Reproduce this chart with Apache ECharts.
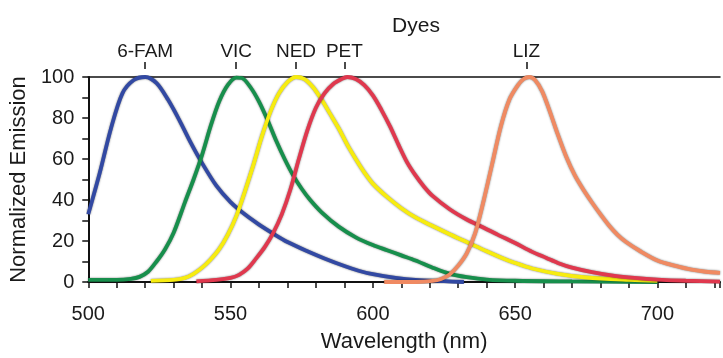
<!DOCTYPE html>
<html>
<head>
<meta charset="utf-8">
<script src="https://cdn.jsdelivr.net/npm/echarts@6/dist/echarts.min.js"></script>
<style>
  html, body { margin: 0; padding: 0; background: #fff; }
  #chart { width: 723px; height: 358px; }
</style>
</head>
<body>
<div id="chart"></div>
<script>
// emission spectra, [wavelength nm, normalized emission]
const fam = [[500, 33], [504, 53], [508, 75], [512, 92], [516, 98.5], [520, 100], [524, 97], [528, 89],
  [532, 79], [536, 68], [540, 58], [545, 47], [550, 39], [555, 33], [560, 28], [565, 23.6], [570, 19.5],
  [577, 15], [583, 11.5], [590, 7.8], [595, 5.5], [600, 3.8], [608, 2], [615, 1], [625, 0.4], [632, 0]]

const vic = [[500, 1], [510, 1], [515, 1.5], [518, 2.5], [521, 5], [524, 10], [527, 16], [530, 24], [534, 39],
  [537, 50], [540, 62], [543, 76], [546, 88], [549, 96], [552, 99.7], [554, 99.5], [557, 95], [560, 88],
  [563, 79], [566, 69], [569, 60], [572, 52], [575, 45.5], [578, 40], [582, 34], [588, 27], [594, 21.8],
  [600, 18], [605, 15.5], [610, 13], [615, 10.5], [621, 7], [627, 4], [633, 2.4], [640, 1.2], [650, 0.6],
  [670, 0.3], [700, 0]]

const ned = [[522, 0.5], [530, 1], [534, 2], [537, 4], [540, 7], [543, 11], [546, 16], [549, 23], [552, 32],
  [555, 44], [558, 57], [561, 71], [564, 83], [567, 92], [570, 97.5], [573, 100], [576, 99], [579, 95],
  [582, 89], [585, 82], [588, 75], [591, 67], [594, 60], [597, 53.5], [600, 48], [605, 41.5], [610, 36],
  [615, 31.5], [621, 27.3], [627, 23.3], [633, 19.5], [640, 15], [645, 12], [650, 9.3], [656, 6.6],
  [665, 4], [675, 2.2], [690, 1], [700, 0.5]]

const pet = [[538, 0.3], [545, 1], [550, 2], [553, 3.5], [556, 6.5], [559, 11.5], [562, 17], [565, 24],
  [568, 33], [571, 45], [574, 60], [577, 74], [580, 85], [583, 92], [586, 96.5], [589, 99], [591, 100],
  [594, 99], [597, 96], [600, 91], [603, 84], [606, 76], [609, 67], [612, 58.5], [615, 52], [618, 46.5],
  [621, 42], [627, 35.5], [633, 30.5], [639, 26.5], [644, 23], [650, 19], [656, 14.7], [661, 11.7],
  [665, 9.3], [670, 7], [677, 4.8], [685, 3], [692, 2], [700, 1.2], [710, 0.6], [722, 0.2]]

const liz = [[604, 0], [615, 0], [621, 0.5], [624, 1.5], [627, 3.7], [630, 8], [633, 14], [636, 24],
  [639, 40], [642, 58], [645, 76], [648, 89], [651, 96], [653, 99], [655, 100], [657, 98.5], [659.5, 93],
  [662, 84], [665, 72], [668, 61], [671, 52], [674, 45], [677, 38.8], [680, 33], [683, 27.6], [686, 23],
  [689, 19.5], [694, 15], [700, 10.5], [706, 8], [712, 6], [717, 5], [722, 4.5]]

const dyeNames = ['6-FAM', 'VIC', 'NED', 'PET', 'LIZ']
const dyePeaks = [520, 552, 573, 590, 654]
const dyeColors = ['#3249a3', '#178f4c', '#f7ec10', '#e0384e', '#f08a62']
const dyeData = [fam, vic, ned, pet, liz]

const chart = echarts.init(document.getElementById('chart'))
const font = 'Liberation Sans, Arial, sans-serif'
const ink = '#1a1a1a'

const option = {
  animation: false,
  title: {
    text: 'Dyes',
    left: 411,
    top: 11,
    textAlign: 'center',
    textStyle: { fontFamily: font, fontSize: 21, fontWeight: 'normal', color: ink },
  },
  grid: { left: 87, right: 0, top: 77, bottom: 72 },
  xAxis: [
    {
      type: 'value',
      min: 500,
      max: 722,
      interval: 10,
      splitLine: { show: false },
      axisLine: { lineStyle: { color: '#111', width: 2 } },
      axisTick: { length: 6, lineStyle: { color: '#111', width: 1.5 } },
      axisLabel: {
        margin: 22,
        fontFamily: font,
        fontSize: 20,
        color: ink,
        formatter: v => (v % 50 === 0 ? String(v) : ''),
      },
      name: 'Wavelength (nm)',
      nameLocation: 'middle',
      nameGap: 49,
      nameTextStyle: { fontFamily: font, fontSize: 22, color: ink },
    },
    {
      type: 'value',
      position: 'top',
      min: 500,
      max: 722,
      splitLine: { show: false },
      axisLine: { show: true, lineStyle: { color: '#111', width: 1.5 } },
      axisTick: { show: false },
      axisLabel: { show: false },
    },
    {
      type: 'value',
      position: 'top',
      offset: 8,
      min: 500,
      max: 722,
      splitLine: { show: false },
      axisLine: { show: false },
      axisTick: { show: true, length: 7, customValues: dyePeaks, lineStyle: { color: '#111', width: 1.5 } },
      axisLabel: {
        margin: 8,
        customValues: dyePeaks,
        fontFamily: font,
        fontSize: 19,
        color: ink,
        formatter: v => dyeNames[dyePeaks.indexOf(v)] || '',
      },
    },
  ],
  yAxis: {
    type: 'value',
    min: 0,
    max: 100,
    interval: 10,
    splitLine: { show: false },
    axisLine: { show: true, lineStyle: { color: '#111', width: 2 } },
    axisTick: { show: true, length: 6, lineStyle: { color: '#111', width: 1.5 } },
    axisLabel: {
      margin: 14,
      fontFamily: font,
      fontSize: 20,
      color: ink,
      formatter: v => (v % 20 === 0 ? String(v) : ''),
    },
    name: 'Normalized Emission',
    nameLocation: 'middle',
    nameGap: 56,
    nameTextStyle: { fontFamily: font, fontSize: 22, color: ink },
  },
  series: dyeData.map((d, i) => ({
    name: dyeNames[i],
    type: 'line',
    data: d,
    smooth: 0.3,
    showSymbol: false,
    lineStyle: {
      color: dyeColors[i],
      width: 3.8,
      shadowColor: 'rgba(0,0,0,0.55)',
      shadowBlur: 2,
    },
  })),
}

chart.setOption(option)
</script>
</body>
</html>
